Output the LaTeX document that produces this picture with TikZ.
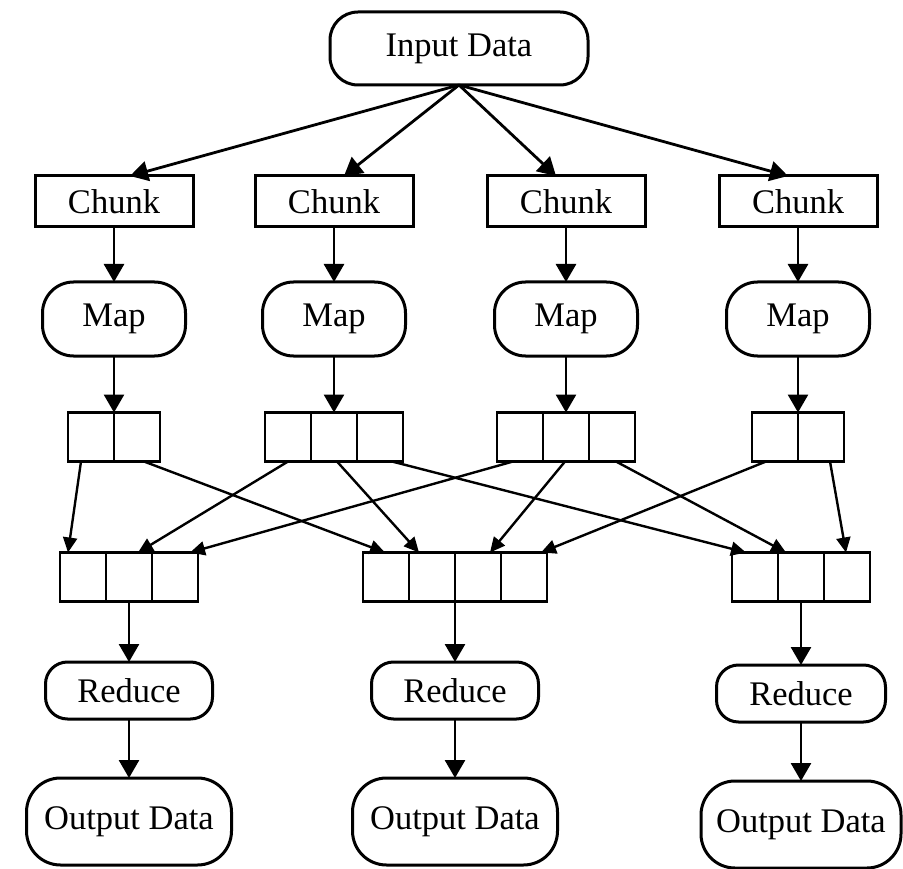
\documentclass[tikz,border=0pt]{standalone}
\usepackage{fontspec}
\setmainfont{Liberation Serif}
\usetikzlibrary{arrows.meta}
\begin{document}
\begin{tikzpicture}[x=1pt,y=-1pt,
  every node/.style={inner sep=0pt,outer sep=0pt,font=\fontsize{34.5}{40}\selectfont},
  inputnode/.style={draw,line width=3pt,rounded corners=28pt,minimum width=258pt,minimum height=73pt},
  chunkbox/.style={draw,line width=3pt,minimum width=158pt,minimum height=51pt},
  mapnode/.style={draw,line width=3pt,rounded corners=31pt,minimum width=143pt,minimum height=74pt},
  cell/.style={draw,line width=2.8pt,minimum width=46pt,minimum height=49pt},
  reducenode/.style={draw,line width=3pt,rounded corners=22pt,minimum width=167pt,minimum height=57pt},
  outputnode/.style={draw,line width=3pt,rounded corners=34pt,minimum width=205pt,minimum height=87pt},
  arr/.style={-{Triangle[length=18pt,width=20pt]},line width=2.8pt},
  xarr/.style={-{Triangle[length=15pt,width=14pt]},line width=2.4pt}]
\useasboundingbox (0,0) rectangle (903,869);

% source
\node[inputnode] (in) at (459,48.5) {Input Data};

% chunks and map tasks
\foreach \i/\x in {1/114,2/334,3/566,4/798}{
  \node[chunkbox] (ch\i) at (\x,201.5) {Chunk};
  \node[mapnode] (m\i) at (\x,319) {Map};
}

% intermediate buffers after map
\node[cell] (u1a) at (91,437) {};
\node[cell] (u1b) at (137,437) {};
\node[cell] (u2a) at (288,437) {};
\node[cell] (u2b) at (334,437) {};
\node[cell] (u2c) at (380,437) {};
\node[cell] (u3a) at (520,437) {};
\node[cell] (u3b) at (566,437) {};
\node[cell] (u3c) at (612,437) {};
\node[cell] (u4a) at (775,437) {};
\node[cell] (u4b) at (821,437) {};

% buffers before reduce
\node[cell] (l1a) at (83,577) {};
\node[cell] (l1b) at (129,577) {};
\node[cell] (l1c) at (175,577) {};
\node[cell] (l2a) at (386,577) {};
\node[cell] (l2b) at (432,577) {};
\node[cell] (l2c) at (478,577) {};
\node[cell] (l2d) at (524,577) {};
\node[cell] (l3a) at (755,577) {};
\node[cell] (l3b) at (801,577) {};
\node[cell] (l3c) at (847,577) {};

% reduce tasks and results
\node[reducenode] (r1) at (129,690.5) {Reduce};
\node[reducenode] (r2) at (455,690.5) {Reduce};
\node[reducenode,minimum width=169pt] (r3) at (801,693.5) {Reduce};
\node[outputnode] (o1) at (129,821.5) {Output Data};
\node[outputnode] (o2) at (455,821.5) {Output Data};
\node[outputnode,minimum width=200pt] (o3) at (801,824.5) {Output Data};

% splitting the input
\draw[arr] (in.south) -- ([xshift=16pt]ch1.north);
\draw[arr] (in.south) -- ([xshift=10pt]ch2.north);
\draw[arr] (in.south) -- ([xshift=-10pt]ch3.north);
\draw[arr] (in.south) -- ([xshift=-10pt]ch4.north);

% chunk -> map
\foreach \i in {1,2,3,4}{
  \draw[arr] (ch\i.south) -- (m\i.north);
}

% map -> buffers
\draw[arr] (m1.south) -- (m1.south |- u1a.north);
\draw[arr] (m2.south) -- (u2b.north);
\draw[arr] (m3.south) -- (u3b.north);
\draw[arr] (m4.south) -- (m4.south |- u4a.north);

% shuffle
\draw[xarr] ([xshift=-10pt]u1a.south) -- ([xshift=-15pt]l1a.north);
\draw[xarr] ([xshift=7pt]u1b.south) -- ([xshift=-1pt]l2a.north);
\draw[xarr] (u2a.south) -- ([xshift=9pt]l1b.north);
\draw[xarr] ([xshift=3pt]u2b.south) -- ([xshift=-13pt]l2b.north);
\draw[xarr] ([xshift=12pt]u2c.south) -- ([xshift=-9pt]l3a.north);
\draw[xarr] ([xshift=-7pt]u3a.south) -- ([xshift=15pt]l1c.north);
\draw[xarr] ([xshift=-1pt]u3b.south) -- ([xshift=12pt]l2c.north);
\draw[xarr] ([xshift=4pt]u3c.south) -- ([xshift=-15pt]l3b.north);
\draw[xarr] ([xshift=-9pt]u4a.south) -- ([xshift=17pt]l2d.north);
\draw[xarr] ([xshift=9pt]u4b.south) -- ([xshift=-1pt]l3c.north);

% buffers -> reduce -> output
\draw[arr] (l1b.south) -- (r1.north);
\draw[arr] (r2.north |- l2b.south) -- (r2.north);
\draw[arr] (l3b.south) -- (r3.north);
\foreach \i in {1,2,3}{
  \draw[arr] (r\i.south) -- (o\i.north);
}
\end{tikzpicture}
\end{document}
